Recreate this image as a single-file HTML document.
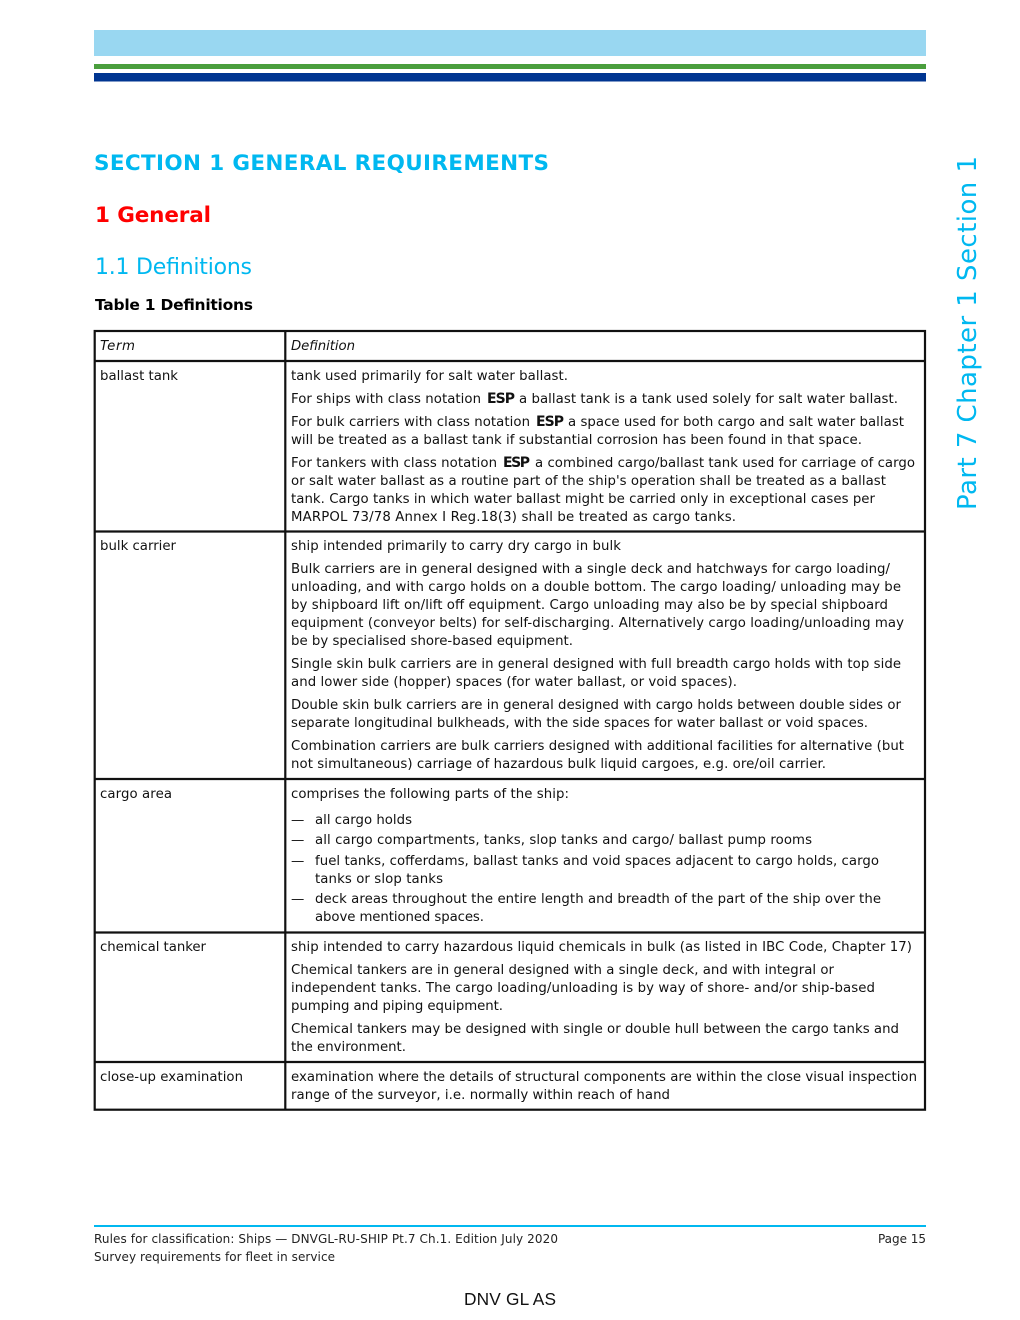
<!DOCTYPE html>
<html lang="en">
<head>
<meta charset="utf-8">
<title>Section 1 General Requirements</title>
<style>
html,body{margin:0;padding:0;background:#fff}
body{width:1020px;height:1320px;overflow:hidden}
svg{display:block}
text{font-family:"DejaVu Sans",Verdana,sans-serif;font-size:13.3px;fill:#111;white-space:pre}
.b{font-weight:bold;font-size:14px}
.i{font-style:italic}
.h{font-weight:bold;font-size:21.5px;fill:#00b8f0}
.r{font-weight:bold;font-size:21.5px;fill:#f00}
.s{font-size:22px;fill:#00b8f0}
.t{font-weight:bold;font-size:15.5px;fill:#000}
.f{font-size:12px;fill:#222}
.v{font-size:26px;fill:#00b8f0}
.d{font-family:"Liberation Sans",Arial,sans-serif;font-size:17.3px;fill:#111}
</style>
</head>
<body>
<svg width="1020" height="1320" viewBox="0 0 1020 1320" xmlns="http://www.w3.org/2000/svg">
<rect x="94" y="30" width="832" height="26" fill="#99d7f1"/>
<rect x="94" y="64" width="832" height="5" fill="#4a9e3d"/>
<rect x="94" y="73" width="832" height="8.5" fill="#003591"/>

<text class="h" x="94" y="170" textLength="455" lengthAdjust="spacing">SECTION 1 GENERAL REQUIREMENTS</text>
<text class="r" x="95" y="222" textLength="116" lengthAdjust="spacing">1 General</text>
<text class="s" x="95" y="274" textLength="157" lengthAdjust="spacing">1.1 Definitions</text>
<text class="t" x="95" y="310" textLength="158" lengthAdjust="spacing">Table 1 Definitions</text>

<text class="v" transform="translate(976 510) rotate(-90)" textLength="354" lengthAdjust="spacing">Part 7 Chapter 1 Section 1</text>

<g fill="none" stroke="#111" stroke-width="2.2">
<rect x="94.7" y="331" width="830.3" height="778.7"/>
<path d="M285.3 331V1110M95 361H925M95 531.5H925M95 779H925M95 932.5H925M95 1062H925"/>
</g>

<text class="i" x="100" y="350" textLength="35" lengthAdjust="spacing">Term</text>
<text class="i" x="291" y="350" textLength="64" lengthAdjust="spacing">Definition</text>

<text x="100" y="380" textLength="78" lengthAdjust="spacing">ballast tank</text>
<text x="291" y="380" textLength="277" lengthAdjust="spacing">tank used primarily for salt water ballast.</text>
<text x="291" y="403" textLength="190" lengthAdjust="spacing">For ships with class notation</text>
<text class="b" x="487" y="403" textLength="28" lengthAdjust="spacing">ESP</text>
<text x="519" y="403" textLength="379" lengthAdjust="spacing">a ballast tank is a tank used solely for salt water ballast.</text>
<text x="291" y="426" textLength="239" lengthAdjust="spacing">For bulk carriers with class notation</text>
<text class="b" x="536" y="426" textLength="28" lengthAdjust="spacing">ESP</text>
<text x="568" y="426" textLength="336" lengthAdjust="spacing">a space used for both cargo and salt water ballast</text>
<text x="291" y="444" textLength="571" lengthAdjust="spacing">will be treated as a ballast tank if substantial corrosion has been found in that space.</text>
<text x="291" y="467" textLength="206" lengthAdjust="spacing">For tankers with class notation</text>
<text class="b" x="503" y="467" textLength="27" lengthAdjust="spacing">ESP</text>
<text x="535" y="467" textLength="380" lengthAdjust="spacing">a combined cargo/ballast tank used for carriage of cargo</text>
<text x="291" y="485" textLength="595" lengthAdjust="spacing">or salt water ballast as a routine part of the ship's operation shall be treated as a ballast</text>
<text x="291" y="503" textLength="584" lengthAdjust="spacing">tank. Cargo tanks in which water ballast might be carried only in exceptional cases per</text>
<text x="291" y="521" textLength="445" lengthAdjust="spacing">MARPOL 73/78 Annex I Reg.18(3) shall be treated as cargo tanks.</text>

<text x="100" y="550" textLength="76" lengthAdjust="spacing">bulk carrier</text>
<text x="291" y="550" textLength="330" lengthAdjust="spacing">ship intended primarily to carry dry cargo in bulk</text>
<text x="291" y="573" textLength="599" lengthAdjust="spacing">Bulk carriers are in general designed with a single deck and hatchways for cargo loading/</text>
<text x="291" y="591" textLength="610" lengthAdjust="spacing">unloading, and with cargo holds on a double bottom. The cargo loading/ unloading may be</text>
<text x="291" y="609" textLength="597" lengthAdjust="spacing">by shipboard lift on/lift off equipment. Cargo unloading may also be by special shipboard</text>
<text x="291" y="627" textLength="613" lengthAdjust="spacing">equipment (conveyor belts) for self-discharging. Alternatively cargo loading/unloading may</text>
<text x="291" y="645" textLength="282" lengthAdjust="spacing">be by specialised shore-based equipment.</text>
<text x="291" y="668" textLength="610" lengthAdjust="spacing">Single skin bulk carriers are in general designed with full breadth cargo holds with top side</text>
<text x="291" y="686" textLength="446" lengthAdjust="spacing">and lower side (hopper) spaces (for water ballast, or void spaces).</text>
<text x="291" y="709" textLength="610" lengthAdjust="spacing">Double skin bulk carriers are in general designed with cargo holds between double sides or</text>
<text x="291" y="727" textLength="577" lengthAdjust="spacing">separate longitudinal bulkheads, with the side spaces for water ballast or void spaces.</text>
<text x="291" y="750" textLength="613" lengthAdjust="spacing">Combination carriers are bulk carriers designed with additional facilities for alternative (but</text>
<text x="291" y="768" textLength="535" lengthAdjust="spacing">not simultaneous) carriage of hazardous bulk liquid cargoes, e.g. ore/oil carrier.</text>

<text x="100" y="798" textLength="72" lengthAdjust="spacing">cargo area</text>
<text x="291" y="798" textLength="278" lengthAdjust="spacing">comprises the following parts of the ship:</text>
<text x="291" y="824">—</text>
<text x="315" y="824" textLength="97" lengthAdjust="spacing">all cargo holds</text>
<text x="291" y="844">—</text>
<text x="315" y="844" textLength="497" lengthAdjust="spacing">all cargo compartments, tanks, slop tanks and cargo/ ballast pump rooms</text>
<text x="291" y="865">—</text>
<text x="315" y="865" textLength="564" lengthAdjust="spacing">fuel tanks, cofferdams, ballast tanks and void spaces adjacent to cargo holds, cargo</text>
<text x="315" y="883" textLength="128" lengthAdjust="spacing">tanks or slop tanks</text>
<text x="291" y="903">—</text>
<text x="315" y="903" textLength="566" lengthAdjust="spacing">deck areas throughout the entire length and breadth of the part of the ship over the</text>
<text x="315" y="921" textLength="169" lengthAdjust="spacing">above mentioned spaces.</text>

<text x="100" y="951" textLength="106" lengthAdjust="spacing">chemical tanker</text>
<text x="291" y="951" textLength="621" lengthAdjust="spacing">ship intended to carry hazardous liquid chemicals in bulk (as listed in IBC Code, Chapter 17)</text>
<text x="291" y="974" textLength="543" lengthAdjust="spacing">Chemical tankers are in general designed with a single deck, and with integral or</text>
<text x="291" y="992" textLength="584" lengthAdjust="spacing">independent tanks. The cargo loading/unloading is by way of shore- and/or ship-based</text>
<text x="291" y="1010" textLength="212" lengthAdjust="spacing">pumping and piping equipment.</text>
<text x="291" y="1033" textLength="608" lengthAdjust="spacing">Chemical tankers may be designed with single or double hull between the cargo tanks and</text>
<text x="291" y="1051" textLength="115" lengthAdjust="spacing">the environment.</text>

<text x="100" y="1081" textLength="143" lengthAdjust="spacing">close-up examination</text>
<text x="291" y="1081" textLength="626" lengthAdjust="spacing">examination where the details of structural components are within the close visual inspection</text>
<text x="291" y="1099" textLength="379" lengthAdjust="spacing">range of the surveyor, i.e. normally within reach of hand</text>

<rect x="94" y="1225" width="832" height="2" fill="#00b8f0"/>
<text class="f" x="94" y="1243" textLength="464" lengthAdjust="spacing">Rules for classification: Ships — DNVGL-RU-SHIP Pt.7 Ch.1. Edition July 2020</text>
<text class="f" x="94" y="1261" textLength="241" lengthAdjust="spacing">Survey requirements for fleet in service</text>
<text class="f" x="878" y="1243" textLength="48" lengthAdjust="spacing">Page 15</text>
<text class="d" x="464" y="1305" textLength="92" lengthAdjust="spacing">DNV GL AS</text>
</svg>
</body>
</html>
